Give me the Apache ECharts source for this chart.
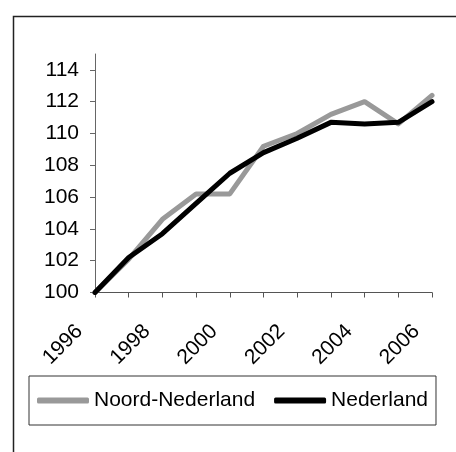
<!DOCTYPE html>
<html>
<head>
<meta charset="utf-8">
<script src="https://cdn.jsdelivr.net/npm/echarts@6/dist/echarts.min.js"></script>
<style>html,body{margin:0;padding:0;background:#fff;}#c{width:456px;height:452px;}</style>
</head>
<body>
<div id="c"></div>
<script>
const years = ['1996','1997','1998','1999','2000','2001','2002','2003','2004','2005','2006'];
const noordNederland = [100, 102.1, 104.6, 106.2, 106.2, 109.2, 110.0, 111.2, 112.0, 110.6, 112.4];
const nederland = [100, 102.2, 103.7, 105.6, 107.5, 108.8, 109.7, 110.7, 110.6, 110.7, 112.0];
const yTicks = [100, 102, 104, 106, 108, 110, 112, 114];
const seriesNames = ['Noord-Nederland', 'Nederland'];

const chart = echarts.init(document.getElementById('c'), null, {renderer: 'canvas'});
const font = 'Arial, "Liberation Sans", sans-serif';
chart.setOption({
  animation: false,
  backgroundColor: '#fff',
  graphic: [{
    type: 'rect', left: 11, top: 14, silent: true,
    shape: {x: 0, y: 0, width: 500, height: 500},
    style: {fill: 'none', stroke: '#222', lineWidth: 1.5}
  }],
  grid: {left: 95, right: 24, top: 54, bottom: 159.5, containLabel: false},
  xAxis: {
    type: 'category', data: years, boundaryGap: false,
    axisLine: {lineStyle: {color: '#555', width: 1}},
    axisTick: {show: true, interval: 0, length: 5, lineStyle: {color: '#555'}},
    axisLabel: {interval: 1, rotate: 45, margin: 20, padding: [0, 22, 0, 0],
      fontSize: 21, fontFamily: font, color: '#000'},
    splitLine: {show: false}
  },
  yAxis: {
    type: 'value', min: 100, max: 115, interval: 1,
    axisLine: {show: true, lineStyle: {color: '#666', width: 1}},
    axisTick: {show: true, length: 5, lineStyle: {color: '#666'}, customValues: yTicks},
    axisLabel: {margin: 16, fontSize: 21, fontFamily: font, color: '#000', customValues: yTicks},
    splitLine: {show: false}
  },
  legend: {
    left: 29, top: 376,
    width: 408,
    padding: [14, 8, 14, 8],
    borderColor: '#333', borderWidth: 1,
    itemGap: 19, itemWidth: 52, itemHeight: 6, icon: 'roundRect',
    textStyle: {fontSize: 21, fontFamily: font, color: '#000'},
    data: seriesNames
  },
  series: [
    {name: seriesNames[0], type: 'line', data: noordNederland, symbol: 'none',
     color: '#999999', lineStyle: {width: 5, color: '#999999', cap: 'round', join: 'round'}},
    {name: seriesNames[1], type: 'line', data: nederland, symbol: 'none',
     color: '#000000', lineStyle: {width: 5, color: '#000000', cap: 'round', join: 'round'}}
  ]
});
</script>
</body>
</html>
